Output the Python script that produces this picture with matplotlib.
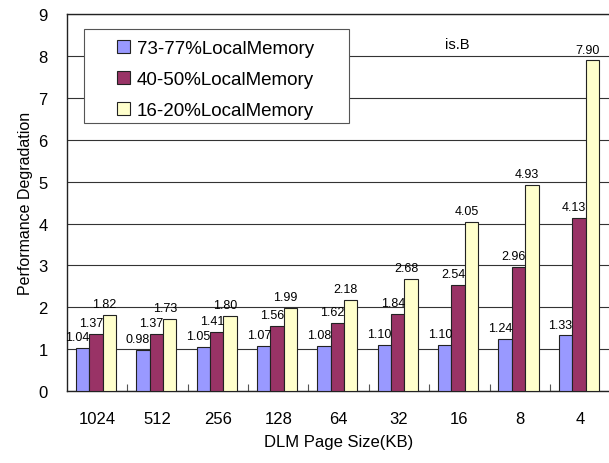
import numpy as np
import matplotlib.pyplot as plt
from matplotlib.patches import Rectangle
from matplotlib.ticker import FixedLocator

plt.rcParams['font.family'] = ['Liberation Sans', 'DejaVu Sans']

page_sizes = ['1024', '512', '256', '128', '64', '32', '16', '8', '4']
series_names = ['73-77%LocalMemory', '40-50%LocalMemory', '16-20%LocalMemory']
local_73_77 = [1.04, 0.98, 1.05, 1.07, 1.08, 1.10, 1.10, 1.24, 1.33]
local_40_50 = [1.37, 1.37, 1.41, 1.56, 1.62, 1.84, 2.54, 2.96, 4.13]
local_16_20 = [1.82, 1.73, 1.80, 1.99, 2.18, 2.68, 4.05, 4.93, 7.90]

colors = ['#9999FF', '#993366', '#FFFFCC']

fig = plt.figure(figsize=(6.09, 4.64), dpi=100)
ax = fig.add_axes([0.110, 0.155, 0.892, 0.812])

x = np.arange(len(page_sizes))
w = 0.222
for i, (vals, name, c) in enumerate(zip([local_73_77, local_40_50, local_16_20], series_names, colors)):
    pos = x + (i - 1) * w - 0.02
    ax.bar(pos, vals, w, color=c, edgecolor='#222222', linewidth=0.8, label=name, zorder=3)
    for xp, v in zip(pos, vals):
        ax.annotate(f"{v:.2f}", (xp, v), xytext=(-3.5, 3.5), textcoords='offset points',
                    ha='center', va='bottom', fontsize=9, zorder=4)

ax.set_xlim(-0.5, len(page_sizes) - 0.5)
ax.set_ylim(0, 9)
ax.set_yticks(range(10))
ax.set_xticks(x)
ax.set_xticklabels(page_sizes)
ax.xaxis.set_minor_locator(FixedLocator(np.arange(0.5, len(page_sizes) - 0.5, 1)))
ax.tick_params(axis='x', which='major', length=0, pad=14, labelsize=12)
ax.tick_params(axis='x', which='minor', direction='in', length=5, width=0.8, color='#555555')
ax.tick_params(axis='y', length=0, pad=14, labelsize=12)

ax.yaxis.grid(True, color='#333333', linewidth=0.8, zorder=0)
ax.set_axisbelow(True)
for s in ['left', 'bottom', 'top']:
    ax.spines[s].set_color('#222222')
    ax.spines[s].set_linewidth(1.0)
ax.spines['right'].set_visible(False)

ax.set_xlabel('DLM Page Size(KB)', fontsize=12, labelpad=6)
ax.set_ylabel('Performance Degradation', fontsize=11.5, labelpad=4)

ax.text(5.97, 8.28, 'is.B', ha='center', va='center', fontsize=10.5)

# legend box drawn separately so it can be wider than its contents
ax.add_patch(Rectangle((0.031, 0.711), 0.488, 0.251, transform=ax.transAxes,
                       facecolor='white', edgecolor='#555555', linewidth=0.8, zorder=5))
leg = ax.legend(loc='upper left', bbox_to_anchor=(0.092, 0.933), fontsize=13.5,
                frameon=False, handlelength=0.7, handleheight=0.7, handletextpad=0.35,
                borderpad=0, labelspacing=0.75, borderaxespad=0)
leg.set_zorder(6)

fig.savefig('out.png', dpi=100)
